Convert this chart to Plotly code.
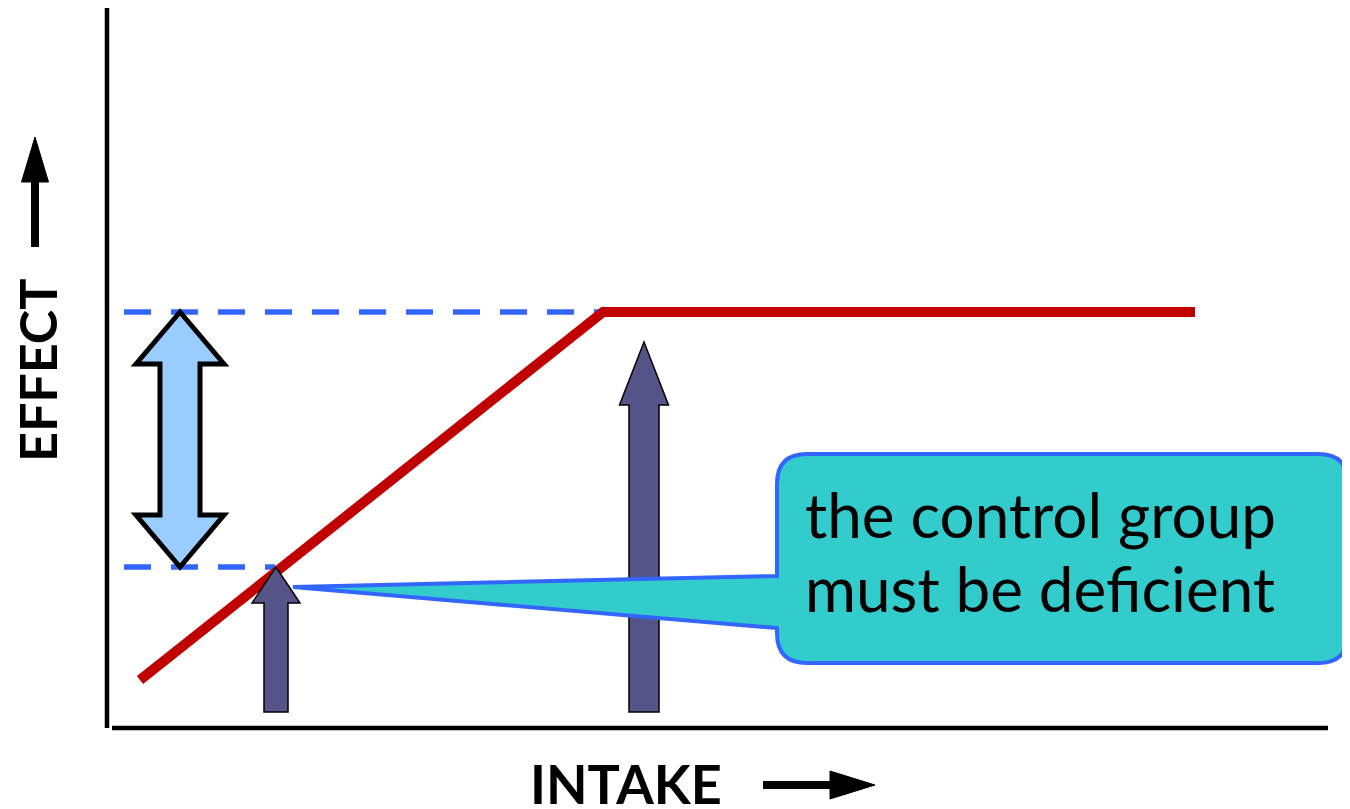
import plotly.graph_objects as go

# dose-response schematic (units: arbitrary intake / effect)
intake = [3.3, 49.6, 108.8]
effect = [4.8, 41.6, 41.6]

control_effect = 16.1
max_effect = 41.6
control_intake = 16.9
high_intake = 53.7
high_arrow_top = 38.6
arrow_base = 1.6
gap_x = 7.3

note_lines = ["the control group", "must be deficient"]
x_label = "INTAKE"
y_label = "EFFECT"


def up_arrow(xc, y0, y1, shaft, head_w, head_len):
    yb = y1 - head_len
    pts = [(xc - shaft, y0), (xc - shaft, yb), (xc - head_w, yb), (xc, y1),
           (xc + head_w, yb), (xc + shaft, yb), (xc + shaft, y0)]
    return "M " + " L ".join(f"{a},{b}" for a, b in pts) + " Z"


def double_arrow(xc, ylo, yhi, shaft, head_w, head_len):
    pts = [(xc, yhi), (xc + head_w, yhi - head_len), (xc + shaft, yhi - head_len),
           (xc + shaft, ylo + head_len), (xc + head_w, ylo + head_len), (xc, ylo),
           (xc - head_w, ylo + head_len), (xc - shaft, ylo + head_len),
           (xc - shaft, yhi - head_len), (xc - head_w, yhi - head_len)]
    return "M " + " L ".join(f"{a},{b}" for a, b in pts) + " Z"


def callout(x0, x1, y0, y1, r, tip, base_lo, base_hi):
    return (f"M {x0+r},{y1} L {x1-r},{y1} Q {x1},{y1} {x1},{y1-r} "
            f"L {x1},{y0+r} Q {x1},{y0} {x1-r},{y0} L {x0+r},{y0} "
            f"Q {x0},{y0} {x0},{y0+r} L {x0},{base_lo} L {tip[0]},{tip[1]} "
            f"L {x0},{base_hi} L {x0},{y1-r} Q {x0},{y1} {x0+r},{y1} Z")


fig = go.Figure()

# dashed reference levels
fig.add_trace(go.Scatter(x=[1.7, 49.3], y=[max_effect, max_effect], mode="lines",
                         line=dict(color="#3366FF", width=5.5, dash="27px,20px"),
                         hoverinfo="skip"))
fig.add_trace(go.Scatter(x=[1.7, 16.8], y=[control_effect, control_effect], mode="lines",
                         line=dict(color="#3366FF", width=5.5, dash="27px,20px"),
                         hoverinfo="skip"))

# response curve
fig.add_trace(go.Scatter(x=intake, y=effect, mode="lines",
                         line=dict(color="#C00000", width=10), hoverinfo="skip"))

shapes = [
    # axes
    dict(type="line", x0=0, x1=0, y0=0, y1=72.0, line=dict(color="black", width=4.5)),
    dict(type="line", x0=0.5, x1=122.1, y0=0, y1=0, line=dict(color="black", width=4.5)),
    # double arrow showing the gap
    dict(type="path", path=double_arrow(gap_x, control_effect, max_effect, 2.0, 4.4, 5.2),
         fillcolor="#99CCFF", line=dict(color="black", width=5)),
    # intake arrows
    dict(type="path", path=up_arrow(control_intake, arrow_base, control_effect, 1.2, 2.4, 3.6),
         fillcolor="#545488", line=dict(color="black", width=1.5)),
    dict(type="path", path=up_arrow(high_intake, arrow_base, high_arrow_top, 1.5, 2.45, 6.3),
         fillcolor="#545488", line=dict(color="black", width=1.5)),
    # callout bubble
    dict(type="path", path=callout(67.0, 124.1, 6.5, 27.4, 3.0, (18.6, 14.1), 10.0, 15.2),
         fillcolor="#33CCCC", line=dict(color="#3366FF", width=4)),
    # axis label arrows
    dict(type="line", x0=-7.2, x1=-7.2, y0=48.1, y1=55.0, line=dict(color="black", width=8)),
    dict(type="path", path="M -8.55,54.6 L -7.2,59.1 L -5.85,54.6 Z",
         fillcolor="black", line=dict(color="black", width=1)),
    dict(type="line", x0=65.6, x1=72.6, y0=-5.7, y1=-5.7, line=dict(color="black", width=8)),
    dict(type="path", path="M 72.3,-4.3 L 76.8,-5.7 L 72.3,-7.1 Z",
         fillcolor="black", line=dict(color="black", width=1)),
]

annotations = [
    dict(x=69.6, y=21.4, text=note_lines[0], showarrow=False, xanchor="left", yanchor="middle",
         font=dict(family="Lato", size=62, color="black")),
    dict(x=69.6, y=14.0, text=note_lines[1], showarrow=False, xanchor="left", yanchor="middle",
         font=dict(family="Lato", size=62, color="black")),
    dict(x=51.9, y=-5.5, text=f"<b>{x_label}</b>", showarrow=False, xanchor="center",
         yanchor="middle", font=dict(family="Lato", size=54, color="black")),
    dict(x=-7.0, y=35.7, text=f"<b>{y_label}</b>", showarrow=False, textangle=-90,
         xanchor="center", yanchor="middle", font=dict(family="Lato", size=52, color="black")),
]

# ranges offset by the page's 8px body margin
fig.update_layout(
    width=1350, height=809,
    margin=dict(l=0, r=0, t=0, b=0),
    paper_bgcolor="white", plot_bgcolor="white",
    showlegend=False,
    xaxis=dict(range=[-9.9, 125.1], visible=False, fixedrange=True),
    yaxis=dict(range=[-8.9, 72.0], visible=False, fixedrange=True),
    shapes=shapes,
    annotations=annotations,
)

fig.write_html("out.html")
